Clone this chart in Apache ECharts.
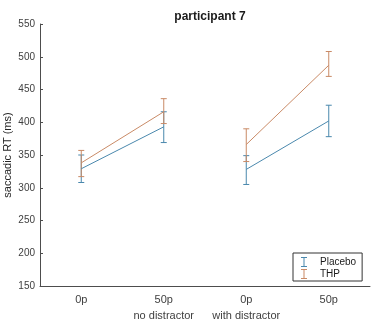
<!DOCTYPE html>
<html>
<head>
<meta charset="utf-8">
<script src="https://cdn.jsdelivr.net/npm/echarts@6/dist/echarts.min.js"></script>
<style>
  html, body { margin: 0; padding: 0; background: #fff; }
  #chart { width: 376px; height: 320px; }
</style>
</head>
<body>
<div id="chart"></div>
<script>
const categories = ['0p', '50p\nno distractor', '0p\nwith distractor', '50p'];

const placeboMean = [329, 393, 328, 402];
const placeboLow = [308, 369, 305, 378];
const placeboHigh = [350, 416, 349, 426];

const thpMean = [338, 416, 366, 487];
const thpLow = [317, 398, 340, 470];
const thpHigh = [357, 436, 390, 508];

const blue = '#4a88ad';
const orange = '#c98a66';
const font = 'Liberation Sans, Arial, sans-serif';

// I-shaped icon for the legend (error bar)
const barIcon = 'path://M0,0H6V1H3.5V9H6V10H0V9H2.5V1H0Z';

// split each condition so the line breaks between groups
function part(arr, idx) {
  return arr.map((v, i) => (idx.includes(i) ? v : '-'));
}

function errorSeries(name, color, low, high) {
  return {
    name: name,
    type: 'custom',
    z: 3,
    itemStyle: { color: color },
    data: low.map((l, i) => [i, l, high[i]]),
    renderItem: function (params, api) {
      const lo = api.coord([api.value(0), api.value(1)]);
      const hi = api.coord([api.value(0), api.value(2)]);
      const w = 3;
      const style = { stroke: color, lineWidth: 1 };
      return {
        type: 'group',
        children: [
          { type: 'line', shape: { x1: lo[0], y1: lo[1], x2: hi[0], y2: hi[1] }, style: style },
          { type: 'line', shape: { x1: lo[0] - w, y1: lo[1], x2: lo[0] + w, y2: lo[1] }, style: style },
          { type: 'line', shape: { x1: hi[0] - w, y1: hi[1], x2: hi[0] + w, y2: hi[1] }, style: style }
        ]
      };
    }
  };
}

function lineSeries(name, color, data) {
  return {
    name: name,
    type: 'line',
    data: data,
    symbol: 'none',
    connectNulls: false,
    lineStyle: { color: color, width: 1 },
    itemStyle: { color: color },
    silent: true
  };
}

const chart = echarts.init(document.getElementById('chart'));

const option = {
  animation: false,
  textStyle: { fontFamily: font },
  title: {
    text: 'participant 7',
    left: 205,
    textAlign: 'center',
    top: 6,
    textStyle: { fontSize: 12, fontWeight: 'bold', color: '#1a1a1a', fontFamily: font }
  },
  legend: {
    data: ['Placebo', 'THP'],
    orient: 'vertical',
    left: 293,
    top: 253,
    width: 73,
    padding: [4, 6, 2, 8],
    itemGap: 2,
    itemWidth: 22,
    itemHeight: 10,
    icon: barIcon,
    borderColor: '#333',
    borderWidth: 1,
    borderRadius: 0,
    backgroundColor: '#fff',
    textStyle: { fontSize: 10, color: '#1a1a1a', fontFamily: font, width: 38 }
  },
  grid: { left: 40, right: 6, top: 24, bottom: 34, containLabel: false, outerBoundsMode: 'none' },
  xAxis: {
    type: 'category',
    data: categories,
    boundaryGap: true,
    axisLine: { lineStyle: { color: '#4d4d4d' } },
    axisTick: { alignWithLabel: true, inside: true, length: 3, lineStyle: { color: '#4d4d4d' } },
    axisLabel: { interval: 0, fontSize: 11, color: '#404040', margin: 6, lineHeight: 16, fontFamily: font }
  },
  yAxis: {
    type: 'value',
    min: 150,
    max: 550,
    interval: 50,
    name: 'saccadic RT (ms)',
    nameLocation: 'middle',
    nameGap: 27,
    nameMoveOverlap: false,
    nameTextStyle: { fontSize: 11, color: '#262626', fontFamily: font },
    axisLine: { show: true, lineStyle: { color: '#4d4d4d' } },
    axisTick: { show: true, inside: true, length: 3, lineStyle: { color: '#4d4d4d' } },
    axisLabel: { fontSize: 10, color: '#404040', margin: 5, fontFamily: font },
    splitLine: { show: false }
  },
  series: [
    errorSeries('Placebo', blue, placeboLow, placeboHigh),
    errorSeries('THP', orange, thpLow, thpHigh),
    lineSeries('Placebo', blue, part(placeboMean, [0, 1])),
    lineSeries('Placebo', blue, part(placeboMean, [2, 3])),
    lineSeries('THP', orange, part(thpMean, [0, 1])),
    lineSeries('THP', orange, part(thpMean, [2, 3]))
  ]
};

chart.setOption(option);
</script>
</body>
</html>
